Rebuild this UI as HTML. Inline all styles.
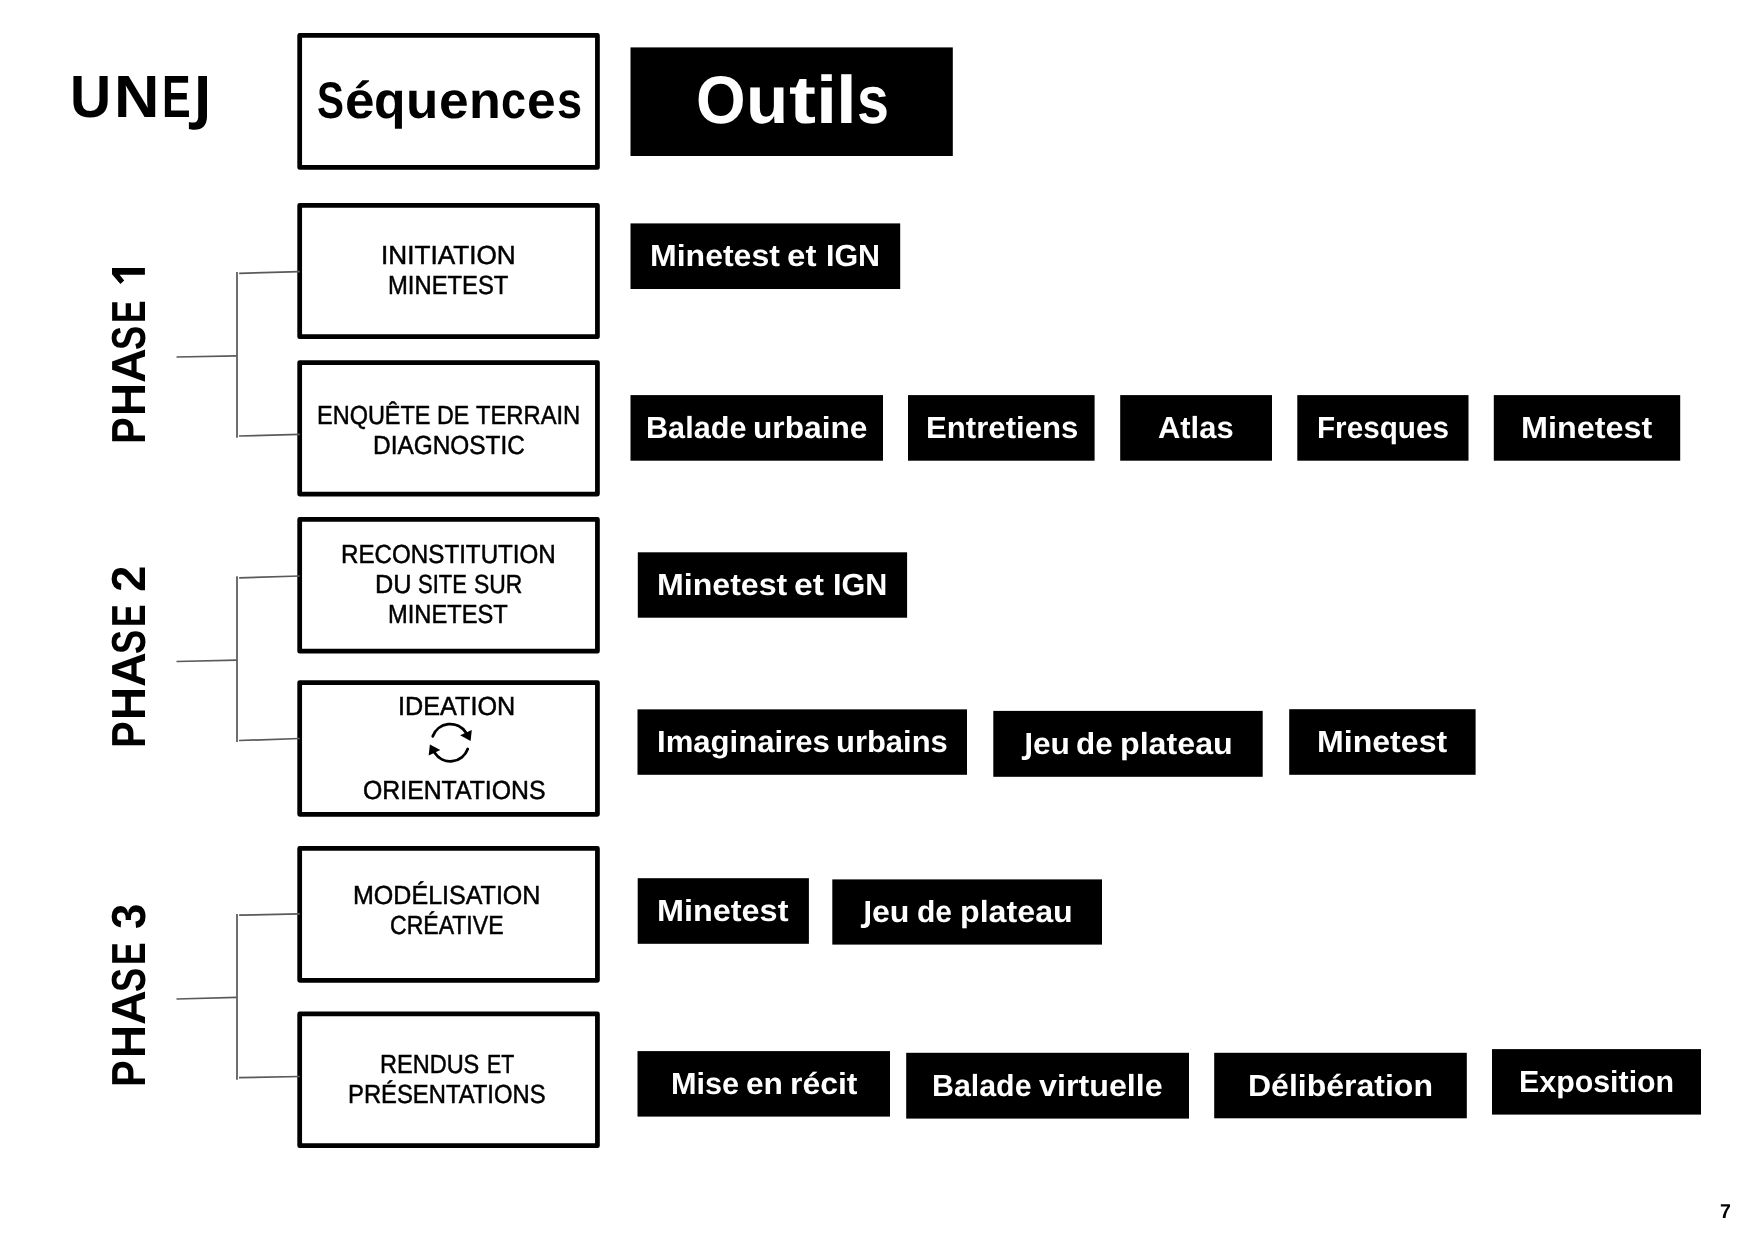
<!DOCTYPE html>
<html><head><meta charset="utf-8"><title>UNEJ - Séquences et outils</title><style>
html,body{margin:0;padding:0;background:#fff;width:1755px;height:1240px;overflow:hidden;position:relative}
body{filter:grayscale(1)}
.t{position:absolute;font-family:"Liberation Sans",sans-serif;white-space:pre;transform-origin:0 0;text-rendering:geometricPrecision}
.r{position:absolute;transform-origin:0 0;transform:rotate(-90deg)}
svg{position:absolute;left:0;top:0}
</style></head><body>

<svg width="1755" height="1240" viewBox="0 0 1755 1240">
<rect x="299.68" y="35.38" width="297.75" height="132.05" fill="none" stroke="#000" stroke-width="4.75" stroke-linejoin="round"/>
<rect x="299.68" y="205.28" width="297.75" height="131.45" fill="none" stroke="#000" stroke-width="4.75" stroke-linejoin="round"/>
<rect x="299.68" y="362.52" width="297.75" height="131.55" fill="none" stroke="#000" stroke-width="4.75" stroke-linejoin="round"/>
<rect x="299.68" y="519.38" width="297.75" height="131.75" fill="none" stroke="#000" stroke-width="4.75" stroke-linejoin="round"/>
<rect x="299.68" y="682.52" width="297.75" height="131.80" fill="none" stroke="#000" stroke-width="4.75" stroke-linejoin="round"/>
<rect x="299.68" y="848.38" width="297.75" height="131.95" fill="none" stroke="#000" stroke-width="4.75" stroke-linejoin="round"/>
<rect x="299.68" y="1013.98" width="297.75" height="131.65" fill="none" stroke="#000" stroke-width="4.75" stroke-linejoin="round"/>
<rect x="630.5" y="47.4" width="322.3" height="108.6" fill="#000"/>
<rect x="630.5" y="223.4" width="269.70" height="65.60" fill="#000"/>
<rect x="630.5" y="395.1" width="252.50" height="65.60" fill="#000"/>
<rect x="908.0" y="395.1" width="186.60" height="65.60" fill="#000"/>
<rect x="1120.2" y="395.1" width="151.80" height="65.60" fill="#000"/>
<rect x="1297.3" y="395.1" width="171.20" height="65.60" fill="#000"/>
<rect x="1493.8" y="395.1" width="186.40" height="65.60" fill="#000"/>
<rect x="637.8" y="552.3" width="269.30" height="65.40" fill="#000"/>
<rect x="637.5" y="709.35" width="329.50" height="65.45" fill="#000"/>
<rect x="993.3" y="710.9" width="269.40" height="65.90" fill="#000"/>
<rect x="1289.2" y="709.2" width="186.40" height="65.60" fill="#000"/>
<rect x="637.7" y="878.2" width="171.20" height="65.60" fill="#000"/>
<rect x="832.3" y="879.4" width="269.70" height="65.20" fill="#000"/>
<rect x="637.5" y="1051.1" width="252.50" height="65.50" fill="#000"/>
<rect x="906.2" y="1052.8" width="282.80" height="65.80" fill="#000"/>
<rect x="1214.2" y="1052.8" width="252.60" height="65.50" fill="#000"/>
<rect x="1492.0" y="1049.1" width="209.00" height="65.50" fill="#000"/>
<line x1="237.0" y1="271.9" x2="237.0" y2="437.7" stroke="#5a5a5a" stroke-width="1.75"/>
<line x1="239.15" y1="273.4" x2="299.8" y2="271.6" stroke="#5a5a5a" stroke-width="1.75"/>
<line x1="176.5" y1="357.0" x2="236.9" y2="355.8" stroke="#5a5a5a" stroke-width="1.75"/>
<line x1="239.0" y1="436.0" x2="299.8" y2="434.4" stroke="#5a5a5a" stroke-width="1.75"/>
<line x1="237.0" y1="576.3" x2="237.0" y2="742.0" stroke="#5a5a5a" stroke-width="1.75"/>
<line x1="239.15" y1="577.9" x2="299.8" y2="576.0" stroke="#5a5a5a" stroke-width="1.75"/>
<line x1="176.5" y1="661.5" x2="236.9" y2="660.2" stroke="#5a5a5a" stroke-width="1.75"/>
<line x1="239.0" y1="740.5" x2="299.8" y2="738.5" stroke="#5a5a5a" stroke-width="1.75"/>
<line x1="237.0" y1="914.0" x2="237.0" y2="1079.7" stroke="#5a5a5a" stroke-width="1.75"/>
<line x1="239.15" y1="915.2" x2="299.8" y2="913.9" stroke="#5a5a5a" stroke-width="1.75"/>
<line x1="176.5" y1="999.0" x2="236.9" y2="997.4" stroke="#5a5a5a" stroke-width="1.75"/>
<line x1="239.0" y1="1077.7" x2="299.8" y2="1076.5" stroke="#5a5a5a" stroke-width="1.75"/>
<path d="M432.76,736.34 A18.6,18.6 0 0 1 465.84,732.57" fill="none" stroke="#000" stroke-width="2.8" stroke-linecap="round"/>
<path d="M467.72,749.06 A18.6,18.6 0 0 1 434.64,752.83" fill="none" stroke="#000" stroke-width="2.8" stroke-linecap="round"/>
<polygon points="471.80,730.00 470.60,740.90 460.15,735.30" fill="#000"/>
<polygon points="428.68,755.40 429.88,744.50 440.33,750.10" fill="#000"/>
<path d="M198.24,76 H207 V116.5 C207,125.3 202.3,129.8 194.5,129.8 C192.2,129.8 190.3,129.5 188.9,129.1 V122.0 C190.3,122.4 191.7,122.6 193.2,122.6 C196.7,122.6 198.24,120.6 198.24,115.8 Z" fill="#000"/>
<path d="M1026.45,732.9 H1030.97 V753.5 C1030.97,758 1028.5,760 1024.7,760 C1023.6,760 1022.6,759.9 1021.8,759.7 V756.1 C1022.4,756.2 1023.1,756.3 1023.8,756.3 C1025.6,756.3 1026.45,755.5 1026.45,753 Z" fill="#fff"/>
<path d="M1026.45,732.9 H1030.97 V753.5 C1030.97,758 1028.5,760 1024.7,760 C1023.6,760 1022.6,759.9 1021.8,759.7 V756.1 C1022.4,756.2 1023.1,756.3 1023.8,756.3 C1025.6,756.3 1026.45,755.5 1026.45,753 Z" fill="#fff" transform="translate(-160.97,168.07)"/>
<path d="M112,268 H144.9 V274.8 H119.6 L124.2,280.4 L120.4,284 L112,274.2 Z" fill="#000"/>
</svg>
<div class="t" style="left:70.487px;top:66.796px;font-size:59.45px;line-height:59.45px;font-weight:700;color:#000;transform:scaleX(0.95817)">U</div>
<div class="t" style="left:113.706px;top:66.646px;font-size:59.45px;line-height:59.45px;font-weight:700;color:#000;transform:scaleX(1.05887)">N</div>
<div class="t" style="left:162.478px;top:66.871px;font-size:59.45px;line-height:59.45px;font-weight:700;color:#000;transform:scaleX(0.72262)">E</div>
<div class="t" style="left:317.429px;top:74.929px;font-size:51.45px;line-height:51.45px;font-weight:700;color:#000;transform:scaleX(0.78568)">S</div>
<div class="t" style="left:345.042px;top:74.512px;font-size:51.45px;line-height:51.45px;font-weight:700;color:#000;transform:scaleX(1.03200)">é</div>
<div class="t" style="left:374.154px;top:74.826px;font-size:51.45px;line-height:51.45px;font-weight:700;color:#000;transform:scaleX(1.00365)">q</div>
<div class="t" style="left:406.076px;top:75.016px;font-size:51.45px;line-height:51.45px;font-weight:700;color:#000;transform:scaleX(1.02960)">u</div>
<div class="t" style="left:438.704px;top:75.457px;font-size:51.45px;line-height:51.45px;font-weight:700;color:#000;transform:scaleX(1.03635)">e</div>
<div class="t" style="left:468.514px;top:74.947px;font-size:51.45px;line-height:51.45px;font-weight:700;color:#000;transform:scaleX(1.01242)">n</div>
<div class="t" style="left:501.357px;top:74.949px;font-size:51.45px;line-height:51.45px;font-weight:700;color:#000;transform:scaleX(0.87530)">c</div>
<div class="t" style="left:527.290px;top:74.947px;font-size:51.45px;line-height:51.45px;font-weight:700;color:#000;transform:scaleX(1.00206)">e</div>
<div class="t" style="left:557.052px;top:74.947px;font-size:51.45px;line-height:51.45px;font-weight:700;color:#000;transform:scaleX(0.87719)">s</div>
<div class="t" style="left:696.364px;top:66.902px;font-size:67.3px;line-height:67.3px;font-weight:700;color:#fff;transform:scaleX(0.94750)">O</div>
<div class="t" style="left:746.470px;top:67.125px;font-size:67.3px;line-height:67.3px;font-weight:700;color:#fff;transform:scaleX(1.02697)">u</div>
<div class="t" style="left:789.323px;top:67.169px;font-size:67.3px;line-height:67.3px;font-weight:700;color:#fff;transform:scaleX(1.20394)">t</div>
<div class="t" style="left:816.239px;top:67.351px;font-size:67.3px;line-height:67.3px;font-weight:700;color:#fff;transform:scaleX(1.12947)">i</div>
<div class="t" style="left:835.572px;top:67.144px;font-size:67.3px;line-height:67.3px;font-weight:700;color:#fff;transform:scaleX(1.10775)">l</div>
<div class="t" style="left:856.744px;top:67.476px;font-size:67.3px;line-height:67.3px;font-weight:700;color:#fff;transform:scaleX(0.85253)">s</div>
<div class="t" style="left:1719.954px;top:1203.145px;font-size:19.91px;line-height:19.91px;font-weight:700;color:#000;transform:scaleX(0.98445)">7</div>
<div class="t" style="left:380.819px;top:241.599px;font-size:26.16px;line-height:26.16px;font-weight:400;color:#000;transform:scaleX(1.00006);-webkit-text-stroke:0.5px #000">INITIATION</div>
<div class="t" style="left:388.279px;top:272.299px;font-size:26.16px;line-height:26.16px;font-weight:400;color:#000;transform:scaleX(0.91036);-webkit-text-stroke:0.5px #000">MINETEST</div>
<div class="t" style="left:316.713px;top:402.439px;font-size:26.16px;line-height:26.16px;font-weight:400;color:#000;transform:scaleX(0.89797);-webkit-text-stroke:0.5px #000">ENQUÊTE</div>
<div class="t" style="left:437.135px;top:401.999px;font-size:26.16px;line-height:26.16px;font-weight:400;color:#000;transform:scaleX(0.88683);-webkit-text-stroke:0.5px #000">DE</div>
<div class="t" style="left:476.196px;top:402.319px;font-size:26.16px;line-height:26.16px;font-weight:400;color:#000;transform:scaleX(0.90774);-webkit-text-stroke:0.5px #000">TERRAIN</div>
<div class="t" style="left:373.042px;top:431.699px;font-size:26.16px;line-height:26.16px;font-weight:400;color:#000;transform:scaleX(0.93338);-webkit-text-stroke:0.5px #000">DIAGNOSTIC</div>
<div class="t" style="left:340.865px;top:540.599px;font-size:26.16px;line-height:26.16px;font-weight:400;color:#000;transform:scaleX(0.92397);-webkit-text-stroke:0.5px #000">RECONSTITUTION</div>
<div class="t" style="left:375.294px;top:570.744px;font-size:26.16px;line-height:26.16px;font-weight:400;color:#000;transform:scaleX(0.96747);-webkit-text-stroke:0.5px #000">DU</div>
<div class="t" style="left:418.330px;top:570.789px;font-size:26.16px;line-height:26.16px;font-weight:400;color:#000;transform:scaleX(0.83995);-webkit-text-stroke:0.5px #000">SITE</div>
<div class="t" style="left:474.128px;top:570.834px;font-size:26.16px;line-height:26.16px;font-weight:400;color:#000;transform:scaleX(0.87471);-webkit-text-stroke:0.5px #000">SUR</div>
<div class="t" style="left:388.289px;top:600.999px;font-size:26.16px;line-height:26.16px;font-weight:400;color:#000;transform:scaleX(0.90497);-webkit-text-stroke:0.5px #000">MINETEST</div>
<div class="t" style="left:397.897px;top:692.999px;font-size:26.16px;line-height:26.16px;font-weight:400;color:#000;transform:scaleX(0.96435);-webkit-text-stroke:0.5px #000">IDEATION</div>
<div class="t" style="left:363.288px;top:776.599px;font-size:26.16px;line-height:26.16px;font-weight:400;color:#000;transform:scaleX(0.94894);-webkit-text-stroke:0.5px #000">ORIENTATIONS</div>
<div class="t" style="left:353.103px;top:882.199px;font-size:26.16px;line-height:26.16px;font-weight:400;color:#000;transform:scaleX(0.95758);-webkit-text-stroke:0.5px #000">MODÉLISATION</div>
<div class="t" style="left:390.415px;top:911.699px;font-size:26.16px;line-height:26.16px;font-weight:400;color:#000;transform:scaleX(0.88082);-webkit-text-stroke:0.5px #000">CRÉATIVE</div>
<div class="t" style="left:380.320px;top:1050.639px;font-size:26.16px;line-height:26.16px;font-weight:400;color:#000;transform:scaleX(0.89907);-webkit-text-stroke:0.5px #000">RENDUS</div>
<div class="t" style="left:486.670px;top:1050.899px;font-size:26.16px;line-height:26.16px;font-weight:400;color:#000;transform:scaleX(0.81641);-webkit-text-stroke:0.5px #000">ET</div>
<div class="t" style="left:348.322px;top:1080.699px;font-size:26.16px;line-height:26.16px;font-weight:400;color:#000;transform:scaleX(0.91013);-webkit-text-stroke:0.5px #000">PRÉSENTATIONS</div>
<div class="t" style="left:649.734px;top:241.232px;font-size:30.52px;line-height:30.52px;font-weight:700;color:#fff;transform:scaleX(1.04938)">Minetest</div>
<div class="t" style="left:787.418px;top:241.432px;font-size:30.52px;line-height:30.52px;font-weight:700;color:#fff;transform:scaleX(1.08426)">et</div>
<div class="t" style="left:826.213px;top:241.232px;font-size:30.52px;line-height:30.52px;font-weight:700;color:#fff;transform:scaleX(0.99713)">IGN</div>
<div class="t" style="left:646.079px;top:412.832px;font-size:30.52px;line-height:30.52px;font-weight:700;color:#fff;transform:scaleX(1.00334)">Balade</div>
<div class="t" style="left:752.627px;top:412.682px;font-size:30.52px;line-height:30.52px;font-weight:700;color:#fff;transform:scaleX(1.03882)">urbaine</div>
<div class="t" style="left:925.620px;top:412.832px;font-size:30.52px;line-height:30.52px;font-weight:700;color:#fff;transform:scaleX(1.02085)">Entretiens</div>
<div class="t" style="left:1158.288px;top:412.832px;font-size:30.52px;line-height:30.52px;font-weight:700;color:#fff;transform:scaleX(1.01300)">Atlas</div>
<div class="t" style="left:1317.469px;top:412.582px;font-size:30.52px;line-height:30.52px;font-weight:700;color:#fff;transform:scaleX(0.97200)">Fresques</div>
<div class="t" style="left:1521.022px;top:412.832px;font-size:30.52px;line-height:30.52px;font-weight:700;color:#fff;transform:scaleX(1.05975)">Minetest</div>
<div class="t" style="left:656.934px;top:570.032px;font-size:30.52px;line-height:30.52px;font-weight:700;color:#fff;transform:scaleX(1.05239)">Minetest</div>
<div class="t" style="left:794.391px;top:570.032px;font-size:30.52px;line-height:30.52px;font-weight:700;color:#fff;transform:scaleX(1.10405)">et</div>
<div class="t" style="left:832.936px;top:570.032px;font-size:30.52px;line-height:30.52px;font-weight:700;color:#fff;transform:scaleX(1.00055)">IGN</div>
<div class="t" style="left:656.742px;top:727.332px;font-size:30.52px;line-height:30.52px;font-weight:700;color:#fff;transform:scaleX(1.01946)">Imaginaires</div>
<div class="t" style="left:835.512px;top:727.257px;font-size:30.52px;line-height:30.52px;font-weight:700;color:#fff;transform:scaleX(1.01430)">urbains</div>
<div class="t" style="left:1032.572px;top:728.857px;font-size:30.52px;line-height:30.52px;font-weight:700;color:#fff;transform:scaleX(1.03821)">eu</div>
<div class="t" style="left:1075.941px;top:728.582px;font-size:30.52px;line-height:30.52px;font-weight:700;color:#fff;transform:scaleX(1.02896)">de</div>
<div class="t" style="left:1119.828px;top:728.732px;font-size:30.52px;line-height:30.52px;font-weight:700;color:#fff;transform:scaleX(1.05492)">plateau</div>
<div class="t" style="left:1316.616px;top:727.032px;font-size:30.52px;line-height:30.52px;font-weight:700;color:#fff;transform:scaleX(1.05191)">Minetest</div>
<div class="t" style="left:657.461px;top:896.032px;font-size:30.52px;line-height:30.52px;font-weight:700;color:#fff;transform:scaleX(1.06173)">Minetest</div>
<div class="t" style="left:872.028px;top:897.032px;font-size:30.52px;line-height:30.52px;font-weight:700;color:#fff;transform:scaleX(1.05276)">eu</div>
<div class="t" style="left:916.553px;top:897.032px;font-size:30.52px;line-height:30.52px;font-weight:700;color:#fff;transform:scaleX(0.98471)">de</div>
<div class="t" style="left:959.828px;top:897.032px;font-size:30.52px;line-height:30.52px;font-weight:700;color:#fff;transform:scaleX(1.05492)">plateau</div>
<div class="t" style="left:670.823px;top:1068.507px;font-size:30.52px;line-height:30.52px;font-weight:700;color:#fff;transform:scaleX(1.00495)">Mise</div>
<div class="t" style="left:745.685px;top:1068.732px;font-size:30.52px;line-height:30.52px;font-weight:700;color:#fff;transform:scaleX(1.03799)">en</div>
<div class="t" style="left:789.976px;top:1068.507px;font-size:30.52px;line-height:30.52px;font-weight:700;color:#fff;transform:scaleX(1.04670)">récit</div>
<div class="t" style="left:932.320px;top:1070.592px;font-size:30.52px;line-height:30.52px;font-weight:700;color:#fff;transform:scaleX(0.99449)">Balade</div>
<div class="t" style="left:1039.337px;top:1071.132px;font-size:30.52px;line-height:30.52px;font-weight:700;color:#fff;transform:scaleX(1.05743)">virtuelle</div>
<div class="t" style="left:1248.288px;top:1070.537px;font-size:30.52px;line-height:30.52px;font-weight:700;color:#fff;transform:scaleX(1.04865)">Délibération</div>
<div class="t" style="left:1518.911px;top:1066.857px;font-size:30.52px;line-height:30.52px;font-weight:700;color:#fff;transform:scaleX(0.99481)">Exposition</div>
<div class="r" style="left:105.669px;top:444.175px"><div class="t" style="left:0;top:0;font-size:47.82px;line-height:47.82px;font-weight:700;color:#000;transform:scaleX(0.83442)">P</div></div>
<div class="r" style="left:105.669px;top:415.531px"><div class="t" style="left:0;top:0;font-size:47.82px;line-height:47.82px;font-weight:700;color:#000;transform:scaleX(0.95411)">H</div></div>
<div class="r" style="left:105.669px;top:383.250px"><div class="t" style="left:0;top:0;font-size:47.82px;line-height:47.82px;font-weight:700;color:#000;transform:scaleX(1.00508)">A</div></div>
<div class="r" style="left:105.669px;top:349.683px"><div class="t" style="left:0;top:0;font-size:47.82px;line-height:47.82px;font-weight:700;color:#000;transform:scaleX(0.75363)">S</div></div>
<div class="r" style="left:105.669px;top:323.151px"><div class="t" style="left:0;top:0;font-size:47.82px;line-height:47.82px;font-weight:700;color:#000;transform:scaleX(0.71072)">E</div></div>
<div class="r" style="left:105.669px;top:748.175px"><div class="t" style="left:0;top:0;font-size:47.82px;line-height:47.82px;font-weight:700;color:#000;transform:scaleX(0.83442)">P</div></div>
<div class="r" style="left:105.669px;top:719.531px"><div class="t" style="left:0;top:0;font-size:47.82px;line-height:47.82px;font-weight:700;color:#000;transform:scaleX(0.95411)">H</div></div>
<div class="r" style="left:105.669px;top:687.250px"><div class="t" style="left:0;top:0;font-size:47.82px;line-height:47.82px;font-weight:700;color:#000;transform:scaleX(1.00508)">A</div></div>
<div class="r" style="left:105.669px;top:653.683px"><div class="t" style="left:0;top:0;font-size:47.82px;line-height:47.82px;font-weight:700;color:#000;transform:scaleX(0.75363)">S</div></div>
<div class="r" style="left:105.669px;top:627.151px"><div class="t" style="left:0;top:0;font-size:47.82px;line-height:47.82px;font-weight:700;color:#000;transform:scaleX(0.71072)">E</div></div>
<div class="r" style="left:105.554px;top:591.897px"><div class="t" style="left:0;top:0;font-size:47.82px;line-height:47.82px;font-weight:700;color:#000;transform:scaleX(0.99632)">2</div></div>
<div class="r" style="left:105.554px;top:1086.910px"><div class="t" style="left:0;top:0;font-size:47.82px;line-height:47.82px;font-weight:700;color:#000;transform:scaleX(0.83508)">P</div></div>
<div class="r" style="left:105.669px;top:1057.726px"><div class="t" style="left:0;top:0;font-size:47.82px;line-height:47.82px;font-weight:700;color:#000;transform:scaleX(0.95411)">H</div></div>
<div class="r" style="left:105.669px;top:1025.450px"><div class="t" style="left:0;top:0;font-size:47.82px;line-height:47.82px;font-weight:700;color:#000;transform:scaleX(1.00508)">A</div></div>
<div class="r" style="left:105.669px;top:991.858px"><div class="t" style="left:0;top:0;font-size:47.82px;line-height:47.82px;font-weight:700;color:#000;transform:scaleX(0.75363)">S</div></div>
<div class="r" style="left:105.669px;top:965.322px"><div class="t" style="left:0;top:0;font-size:47.82px;line-height:47.82px;font-weight:700;color:#000;transform:scaleX(0.71072)">E</div></div>
<div class="r" style="left:105.554px;top:929.239px"><div class="t" style="left:0;top:0;font-size:47.82px;line-height:47.82px;font-weight:700;color:#000;transform:scaleX(0.95306)">3</div></div>
</body></html>
